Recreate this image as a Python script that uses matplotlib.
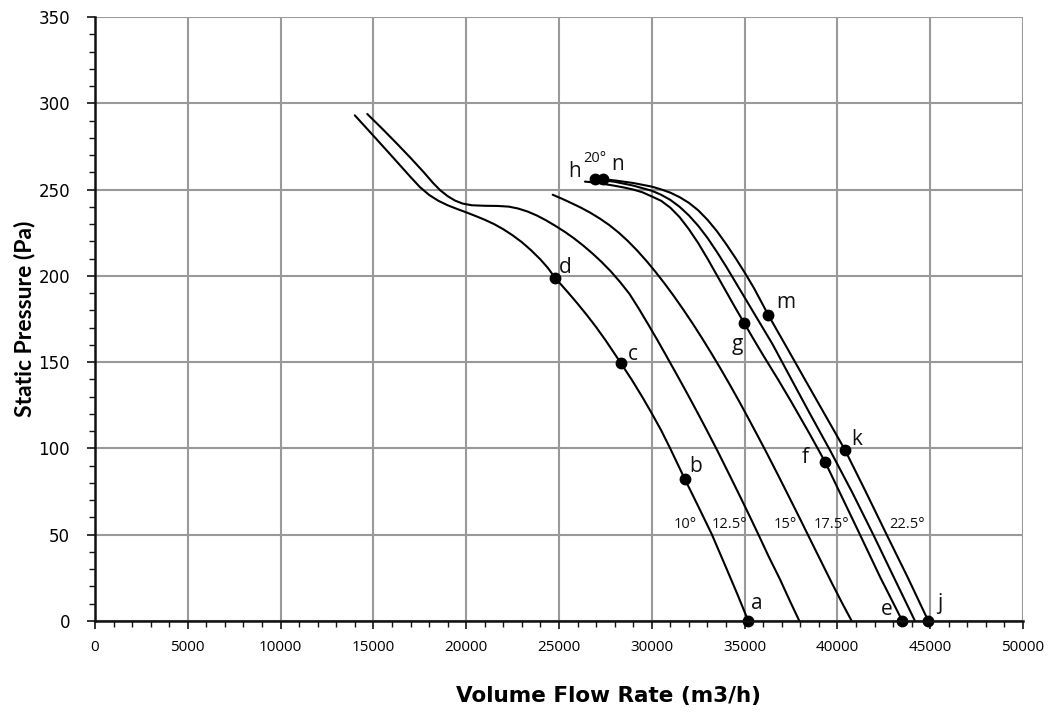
import matplotlib
matplotlib.use("Agg")
from matplotlib import pyplot as plt
from matplotlib.ticker import MultipleLocator

# fan curves for each blade angle: flow (m3/h) and static pressure (Pa)
flow_10 = [14000, 15000, 16000, 16500, 17000, 17500, 18000, 18500, 19000, 19500, 20000, 20500,
           21000, 21500, 22000, 22500, 23000, 23500, 24000, 24400, 24780, 25500, 26000, 26500,
           27000, 27500, 28000, 28340, 28920, 29500, 30000, 30500, 31000, 31790, 32500, 33230,
           34000, 34600, 35200]
pres_10 = [293, 281.2, 269.3, 263.3, 257.3, 251.5, 246.9, 243.5, 240.9, 238.8, 236.8, 234.7,
           232.5, 230, 227, 223.5, 219.5, 214.8, 209.5, 204.6, 199, 190.2, 183.9, 177.3,
           170.3, 162.8, 154.8, 149.3, 139.8, 129.6, 120.3, 110.6, 99.8, 82, 66.5, 50.3,
           31, 15.8, 0]

flow_12 = [14670, 15500, 16250, 17000, 17700, 18200, 18600, 19000, 19400, 19800, 20300, 21000,
           21700, 22300, 22800, 23300, 23800, 24300, 24800, 25300, 25800, 26300, 26800, 27300,
           27800, 28300, 28800, 29300, 29800, 30300, 30800, 31500, 32000, 32500, 33000, 33580,
           34200, 34800, 35300, 35740, 36300, 36900, 37450, 37950]
pres_12 = [293.8, 285, 276.8, 268.4, 260.2, 254, 249.6, 246.2, 243.6, 241.9, 240.9, 240.6,
           240.5, 240.1, 239, 237.3, 235, 232.2, 229, 225.6, 221.8, 217.6, 213, 208,
           202.5, 196.3, 189.5, 181, 172, 162.8, 153.3, 139.8, 130, 120, 109.8, 97.7,
           84.3, 71.2, 60.1, 50.2, 37.3, 24.3, 11.4, 0]

flow_15 = [24660, 25200, 25700, 26200, 26700, 27200, 27700, 28200, 28700, 29200, 29700, 30200,
           30700, 31200, 31700, 32200, 32700, 33200, 33700, 34200, 34700, 35200, 35700, 36200,
           36800, 37400, 38000, 38500, 39100, 39700, 40250, 40770]
pres_15 = [247, 244.5, 242, 239.4, 236.5, 233.2, 229.5, 225.2, 220.3, 214.8, 208.8, 202.3,
           195.4, 188.1, 180.4, 172.4, 164, 155.3, 146.3, 137, 127.4, 117.5, 107.4, 97.2,
           84.6, 71.8, 58.9, 48, 35, 22, 10.5, 0]

flow_17 = [26400, 27000, 28000, 28500, 29000, 29500, 30000, 30500, 31000, 31500, 32000, 32500,
           33000, 33500, 34000, 34500, 34984, 35500, 36000, 36816, 37500, 38500, 39332, 40300,
           41218, 42300, 43500]
pres_17 = [254.6, 254, 252.2, 251.2, 250, 248.4, 246, 243.5, 239.5, 234, 227, 219,
           210, 200.5, 191, 181.5, 172.5, 163, 154, 139.7, 127.3, 108.5, 92.3, 70.6,
           50, 25.5, 0]

flow_20 = [26940, 28000, 29000, 30000, 30500, 31000, 31500, 32000, 32500, 33000, 33500, 34000,
           34500, 35000, 35500, 36000, 36500, 37538, 38500, 39600, 40800, 41935, 43100, 44180]
pres_20 = [256, 254.5, 252.3, 249.3, 247, 244, 240, 235, 229, 222, 214, 205.5,
           196.5, 187.5, 178.5, 169.5, 160.5, 139.7, 120.5, 99, 74.5, 50, 24, 0]

flow_22 = [27354, 28000, 29000, 30000, 30500, 31000, 31500, 32000, 32500, 33000, 33500, 34000,
           34500, 35000, 35500, 36278, 37300, 38300, 39400, 40409, 41500, 42656, 43800, 44900]
pres_22 = [256, 255.3, 253.8, 251.7, 250.1, 248.2, 245.6, 242.3, 238, 232.5, 226, 218.5,
           210.5, 202, 193, 177.3, 158, 139, 118.2, 99.1, 75.5, 50, 25, 0]

curves = [(flow_10, pres_10), (flow_12, pres_12), (flow_15, pres_15),
          (flow_17, pres_17), (flow_20, pres_20), (flow_22, pres_22)]

# marked operating points
pt_names = ["a", "b", "c", "d", "e", "f", "g", "h", "k", "m", "n", "j"]
pt_flow = [35200, 31790, 28340, 24780, 43500, 39332, 34984, 26940, 40409, 36278, 27354, 44900]
pt_pres = [0, 82, 149.3, 199, 0, 92.3, 172.5, 256, 99.1, 177.3, 256, 0]
lbl_flow = [35670, 32380, 28990, 25320, 42670, 38250, 34590, 25860, 41060, 37230, 28180, 45530]
lbl_pres = [9.9, 89.8, 154.7, 204.6, 6.4, 94.5, 160, 260.2, 104.9, 184.3, 264.8, 9.9]

angle_text = ["10°", "12.5°", "15°", "17.5°", "22.5°", "20°"]
angle_flow = [31790, 34180, 37220, 39690, 43730, 26940]
angle_pres = [56, 56, 56, 56, 56, 267.8]

fig = plt.figure(figsize=(10.53, 7.14), dpi=100)
ax = fig.add_axes([0.0902, 0.1303, 0.8813, 0.8459])

for fx, py in curves:
    ax.plot(fx, py, color="black", lw=1.5, solid_joinstyle="round",
            solid_capstyle="round", zorder=3)

ax.plot(pt_flow, pt_pres, "o", color="black", ms=7.5, clip_on=False, zorder=4)
for name, x, y in zip(pt_names, lbl_flow, lbl_pres):
    ax.text(x, y, name, fontsize=15, ha="center", va="center", family="Open Sans", color="#111111")
for t, x, y in zip(angle_text, angle_flow, angle_pres):
    ax.text(x, y, t, fontsize=10.5, ha="center", va="center", family="Open Sans", color="#111111")

ax.set_xlim(0, 50000)
ax.set_ylim(0, 350)
ax.xaxis.set_major_locator(MultipleLocator(5000))
ax.xaxis.set_minor_locator(MultipleLocator(1000))
ax.yaxis.set_major_locator(MultipleLocator(50))
ax.yaxis.set_minor_locator(MultipleLocator(10))
ax.grid(True, which="major", color="#999999", lw=1.5)
ax.set_axisbelow(True)

for s in ["top", "right"]:
    ax.spines[s].set_visible(False)
for s in ["left", "bottom"]:
    ax.spines[s].set_color("#111111")
    ax.spines[s].set_linewidth(1.8)
    ax.spines[s].set_zorder(5)

ax.tick_params(which="major", length=6, width=1.2, color="#111111")
ax.tick_params(which="minor", length=4, width=1.0, color="#111111")
ax.tick_params(axis="x", labelsize=11, pad=8)
ax.tick_params(axis="y", labelsize=12, pad=12)
for lab in ax.get_xticklabels():
    lab.set_family("Open Sans")
for lab in ax.get_yticklabels():
    lab.set_family("DejaVu Sans")

ax.set_xlabel("Volume Flow Rate (m3/h)", fontsize=15.5, fontweight="bold", family="DejaVu Sans")
ax.set_ylabel("Static Pressure (Pa)", fontsize=16.5, fontweight="bold", family="Lato")
ax.xaxis.set_label_coords((609 - 95) / 928, -0.108)
ax.yaxis.set_label_coords(-0.0647, 0.5)

fig.savefig("out.png", dpi=100)
